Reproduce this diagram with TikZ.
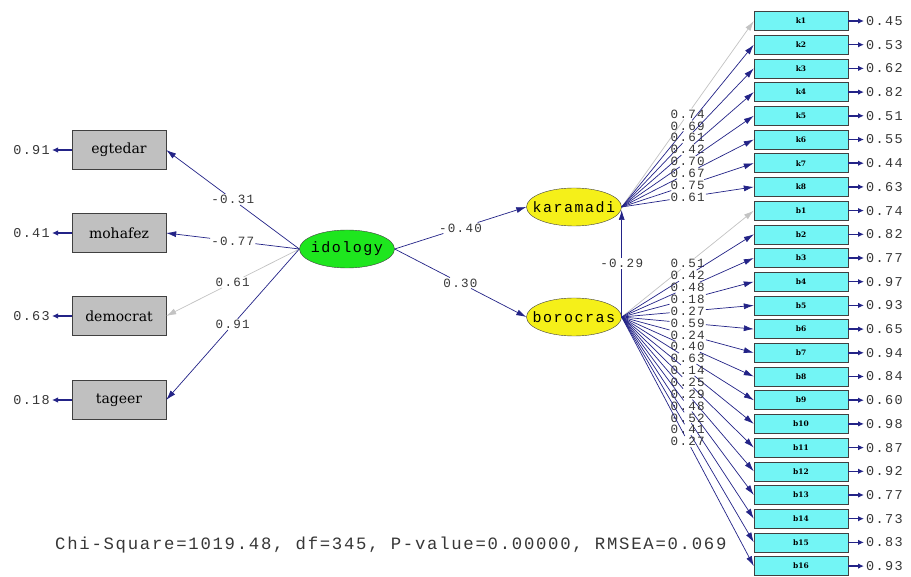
\documentclass[tikz,border=0pt]{standalone}
\usepackage{fontspec}
\usetikzlibrary{shapes.geometric,arrows.meta}
\newfontfamily\lmono[LetterSpace=10]{Liberation Mono}
\newfontfamily\bserif{DejaVu Serif}
\definecolor{navy}{RGB}{35,35,135}
\definecolor{lgray}{RGB}{195,195,195}
\definecolor{boxgray}{RGB}{192,192,192}
\definecolor{boxcyan}{RGB}{115,245,245}
\definecolor{latgreen}{RGB}{30,230,30}
\definecolor{latyellow}{RGB}{245,240,25}
\definecolor{txt}{RGB}{55,55,55}
\begin{document}
\begin{tikzpicture}[x=1pt,y=-1pt,
  obs/.style={draw=black!75, fill=boxgray, minimum width=94pt, minimum height=39pt, inner sep=0pt, font=\bserif\fontsize{14}{16}\selectfont},
  ind/.style={draw=black!75, fill=boxcyan, minimum width=94pt, minimum height=19pt, inner sep=0pt, font=\bserif\bfseries\fontsize{7.5}{9}\selectfont},
  lat/.style={ellipse, draw=black!75, minimum width=95pt, minimum height=38pt, inner sep=0pt, font=\lmono\fontsize{15}{17}\selectfont},
  ld/.style={draw=navy, line width=0.7pt},
  ldarrow/.style={ld, -{Latex[length=10pt,width=6pt]}},
  fx/.style={draw=lgray, line width=0.7pt},
  fxarrow/.style={fx, -{Latex[length=10pt,width=6pt]}},
  errarrow/.style={draw=navy, line width=1.5pt, -{Latex[length=6pt,width=5.5pt]}},
  lab/.style={inner sep=1pt, text=txt, font=\lmono\fontsize{12.6}{13}\selectfont},
  err/.style={inner sep=2pt, text=txt, font=\lmono\fontsize{13.5}{14}\selectfont}
]
\fill[white] (0,0) rectangle (911,577);
\useasboundingbox (0,0) rectangle (911,577);

% left observed variables
\node[obs] (egtedar) at (119,150) {egtedar};
\node[obs] (mohafez) at (119,233) {mohafez};
\node[obs] (democrat) at (119,316) {democrat};
\node[obs] (tageer) at (119,400) {tageer};

\node[err, anchor=east] (eeg) at (52,150) {0.91};
\node[err, anchor=east] (emo) at (52,233) {0.41};
\node[err, anchor=east] (ede) at (52,316) {0.63};
\node[err, anchor=east] (eta) at (52,400) {0.18};
\draw[errarrow] (egtedar.west) -- (eeg.east);
\draw[errarrow] (mohafez.west) -- (emo.east);
\draw[errarrow] (democrat.west) -- (ede.east);
\draw[errarrow] (tageer.west) -- (eta.east);

% latent variables
\node[lat, fill=latgreen] (idology) at (347,249) {\makebox[0pt]{idology}};
\node[lat, fill=latyellow] (karamadi) at (574,207) {\makebox[0pt]{karamadi}};
\node[lat, fill=latyellow] (borocras) at (574,317) {\makebox[0pt]{borocras}};

% idology paths
\path (idology.west) -- node[lab, pos=0.5] (l1) {-0.31} (egtedar.east);
\draw[ld] (idology.west) -- (l1);
\draw[ldarrow] (l1) -- (egtedar.east);
\path (idology.west) -- node[lab, pos=0.5] (l2) {-0.77} (mohafez.east);
\draw[ld] (idology.west) -- (l2);
\draw[ldarrow] (l2) -- (mohafez.east);
\path (idology.west) -- node[lab, pos=0.5] (l3) {0.61} (democrat.east);
\draw[fx] (idology.west) -- (l3);
\draw[fxarrow] (l3) -- (democrat.east);
\path (idology.west) -- node[lab, pos=0.5] (l4) {0.91} (tageer.east);
\draw[ld] (idology.west) -- (l4);
\draw[ldarrow] (l4) -- (tageer.east);

\path (idology.east) -- node[lab, pos=0.5] (l5) {-0.40} (karamadi.west);
\draw[ld] (idology.east) -- (l5);
\draw[ldarrow] (l5) -- (karamadi.west);
\path (idology.east) -- node[lab, pos=0.5] (l6) {0.30} (borocras.west);
\draw[ld] (idology.east) -- (l6);
\draw[ldarrow] (l6) -- (borocras.west);

\coordinate (kin) at ([yshift=-3pt]karamadi.east);
\path (borocras.east) -- node[lab, pos=0.5] (l7) {-0.29} (kin);
\draw[ld] (borocras.east) -- (l7);
\draw[ldarrow] (l7) -- (kin);

% karamadi indicators
\foreach \i/\l/\e in {1/0.74/0.45,2/0.69/0.53,3/0.61/0.62,4/0.42/0.82,5/0.70/0.51,6/0.67/0.55,7/0.75/0.44,8/0.61/0.63}{
  \node[ind] (k\i) at (801,{21+(\i-1)*23.7}) {k\i};
  \node[err, anchor=west] (ek\i) at (864,{21+(\i-1)*23.7}) {\e};
  \draw[errarrow] (k\i.east) -- (ek\i.west);
  \path (karamadi.east) -- node[lab, pos=0.5] (lk\i) {\l} (k\i.west);
  \ifnum\i=1
    \draw[fx] (karamadi.east) -- (lk\i);
    \draw[fxarrow] (lk\i) -- (k\i.west);
  \else
    \draw[ld] (karamadi.east) -- (lk\i);
    \draw[ldarrow] (lk\i) -- (k\i.west);
  \fi
}

% borocras indicators
\foreach \i/\l/\e in {1/0.51/0.74,2/0.42/0.82,3/0.48/0.77,4/0.18/0.97,5/0.27/0.93,6/0.59/0.65,7/0.24/0.94,8/0.40/0.84,9/0.63/0.60,10/0.14/0.98,11/0.25/0.87,12/0.29/0.92,13/0.48/0.77,14/0.52/0.73,15/0.41/0.83,16/0.27/0.93}{
  \node[ind] (b\i) at (801,{21+(\i+7)*23.7}) {b\i};
  \node[err, anchor=west] (eb\i) at (864,{21+(\i+7)*23.7}) {\e};
  \draw[errarrow] (b\i.east) -- (eb\i.west);
  \path (borocras.east) -- node[lab, pos=0.5] (lb\i) {\l} (b\i.west);
  \ifnum\i=1
    \draw[fx] (borocras.east) -- (lb\i);
    \draw[fxarrow] (lb\i) -- (b\i.west);
  \else
    \draw[ld] (borocras.east) -- (lb\i);
    \draw[ldarrow] (lb\i) -- (b\i.west);
  \fi
}

\node[anchor=west, inner sep=0pt, text=txt, font=\lmono\fontsize{17.3}{19}\selectfont] (fit) at (55,545) {Chi-Square=1019.48, df=345, P-value=0.00000, RMSEA=0.069};
\end{tikzpicture}
\end{document}
